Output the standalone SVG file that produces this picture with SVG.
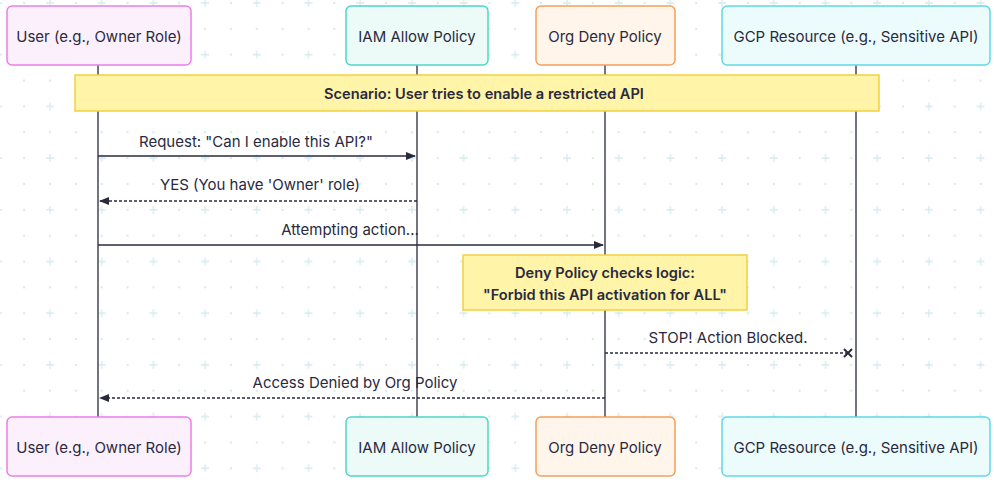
<svg xmlns="http://www.w3.org/2000/svg" width="994" height="482" viewBox="0 0 994 482">
<defs>
<style>
text{font-family:Inter,"Noto Sans",sans-serif;font-size:15px;fill:#2a2a3e;text-anchor:middle;dominant-baseline:central}
.b{font-weight:600;font-size:14.6px}
.life{stroke:#2a2a3e;stroke-width:1.3}
.msg{stroke:#2a2a3e;stroke-width:1.4;fill:none}
.dash{stroke-dasharray:3 2}
.note{fill:#fff4a8;stroke:#f4d03f;stroke-width:1.5}
.g{stroke:#d4ecee;stroke-width:1.3}
</style>
<pattern id="grid" x="50" y="3" width="51.7" height="51.7" patternUnits="userSpaceOnUse">
<path class="g" d="M-4 0H4M0 -4V4M47.7 0H55.7M51.7 -4V4M-4 51.7H4M0 47.7V55.7M47.7 51.7H55.7M51.7 47.7V55.7"/>
<circle cx="25.85" cy="0" r="1.2" fill="#d4ecee"/><circle cx="0" cy="25.85" r="1.2" fill="#d4ecee"/><circle cx="25.85" cy="25.85" r="1.2" fill="#d4ecee"/><circle cx="51.7" cy="25.85" r="1.2" fill="#d4ecee"/><circle cx="25.85" cy="51.7" r="1.2" fill="#d4ecee"/>
</pattern>
<marker id="arr" viewBox="0 0 10 10" refX="9" refY="5" markerWidth="10" markerHeight="10" markerUnits="userSpaceOnUse" orient="auto"><path d="M0 1L10 5L0 9z" fill="#2a2a3e"/></marker>
<marker id="x" viewBox="0 0 10 10" refX="5" refY="5" markerWidth="10" markerHeight="10" markerUnits="userSpaceOnUse" orient="auto"><path d="M1 1L9 9M9 1L1 9" stroke="#2a2a3e" stroke-width="2"/></marker>
</defs>
<rect width="994" height="482" fill="#fff"/>
<rect width="994" height="482" fill="url(#grid)"/>
<g id="lifelines">
<line class="life" x1="98" y1="65" x2="98" y2="417"/>
<line class="life" x1="417" y1="65" x2="417" y2="417"/>
<line class="life" x1="605" y1="65" x2="605" y2="417"/>
<line class="life" x1="856" y1="65" x2="856" y2="417"/>
</g>
<g id="user">
<rect x="7" y="6" width="184" height="59" rx="5" fill="#fdf0fd" stroke="#ec7ee9" stroke-width="1.5"/><text x="99" y="36">User (e.g., Owner Role)</text>
<rect x="7" y="417" width="184" height="59" rx="5" fill="#fdf0fd" stroke="#ec7ee9" stroke-width="1.5"/><text x="99" y="447">User (e.g., Owner Role)</text>
</g>
<g id="iam">
<rect x="346" y="6" width="142" height="59" rx="5" fill="#ecfbf8" stroke="#4dd8c3" stroke-width="1.5"/><text x="417" y="36">IAM Allow Policy</text>
<rect x="346" y="417" width="142" height="59" rx="5" fill="#ecfbf8" stroke="#4dd8c3" stroke-width="1.5"/><text x="417" y="447">IAM Allow Policy</text>
</g>
<g id="org">
<rect x="536" y="6" width="139" height="59" rx="5" fill="#fff5ea" stroke="#f5a05a" stroke-width="1.5"/><text x="605" y="36">Org Deny Policy</text>
<rect x="536" y="417" width="139" height="59" rx="5" fill="#fff5ea" stroke="#f5a05a" stroke-width="1.5"/><text x="605" y="447">Org Deny Policy</text>
</g>
<g id="gcp">
<rect x="722" y="6" width="268" height="59" rx="5" fill="#ecfcfd" stroke="#5fd9e6" stroke-width="1.5"/><text x="856" y="36">GCP Resource (e.g., Sensitive API)</text>
<rect x="722" y="417" width="268" height="59" rx="5" fill="#ecfcfd" stroke="#5fd9e6" stroke-width="1.5"/><text x="856" y="447">GCP Resource (e.g., Sensitive API)</text>
</g>
<g id="note-scenario">
<rect class="note" x="75" y="75" width="804" height="36"/><text class="b" x="484" y="94">Scenario: User tries to enable a restricted API</text>
</g>
<g id="note-deny">
<rect class="note" x="463" y="255" width="284" height="55"/><text class="b" x="605" y="273">Deny Policy checks logic:</text><text class="b" x="605" y="295">"Forbid this API activation for ALL"</text>
</g>
<g id="connectors">
<line class="msg" x1="98" y1="156" x2="415" y2="156" marker-end="url(#arr)"/><text x="256" y="141">Request: "Can I enable this API?"</text>
<line class="msg dash" x1="417" y1="201" x2="100" y2="201" marker-end="url(#arr)"/><text x="260" y="184">YES (You have 'Owner' role)</text>
<line class="msg" x1="98" y1="245" x2="603" y2="245" marker-end="url(#arr)"/><text x="350" y="229">Attempting action...</text>
<line class="msg dash" x1="605" y1="353" x2="848" y2="353" marker-end="url(#x)"/><text x="728" y="337">STOP! Action Blocked.</text>
<line class="msg dash" x1="605" y1="398" x2="100" y2="398" marker-end="url(#arr)"/><text x="355" y="382">Access Denied by Org Policy</text>
</g>
</svg>
